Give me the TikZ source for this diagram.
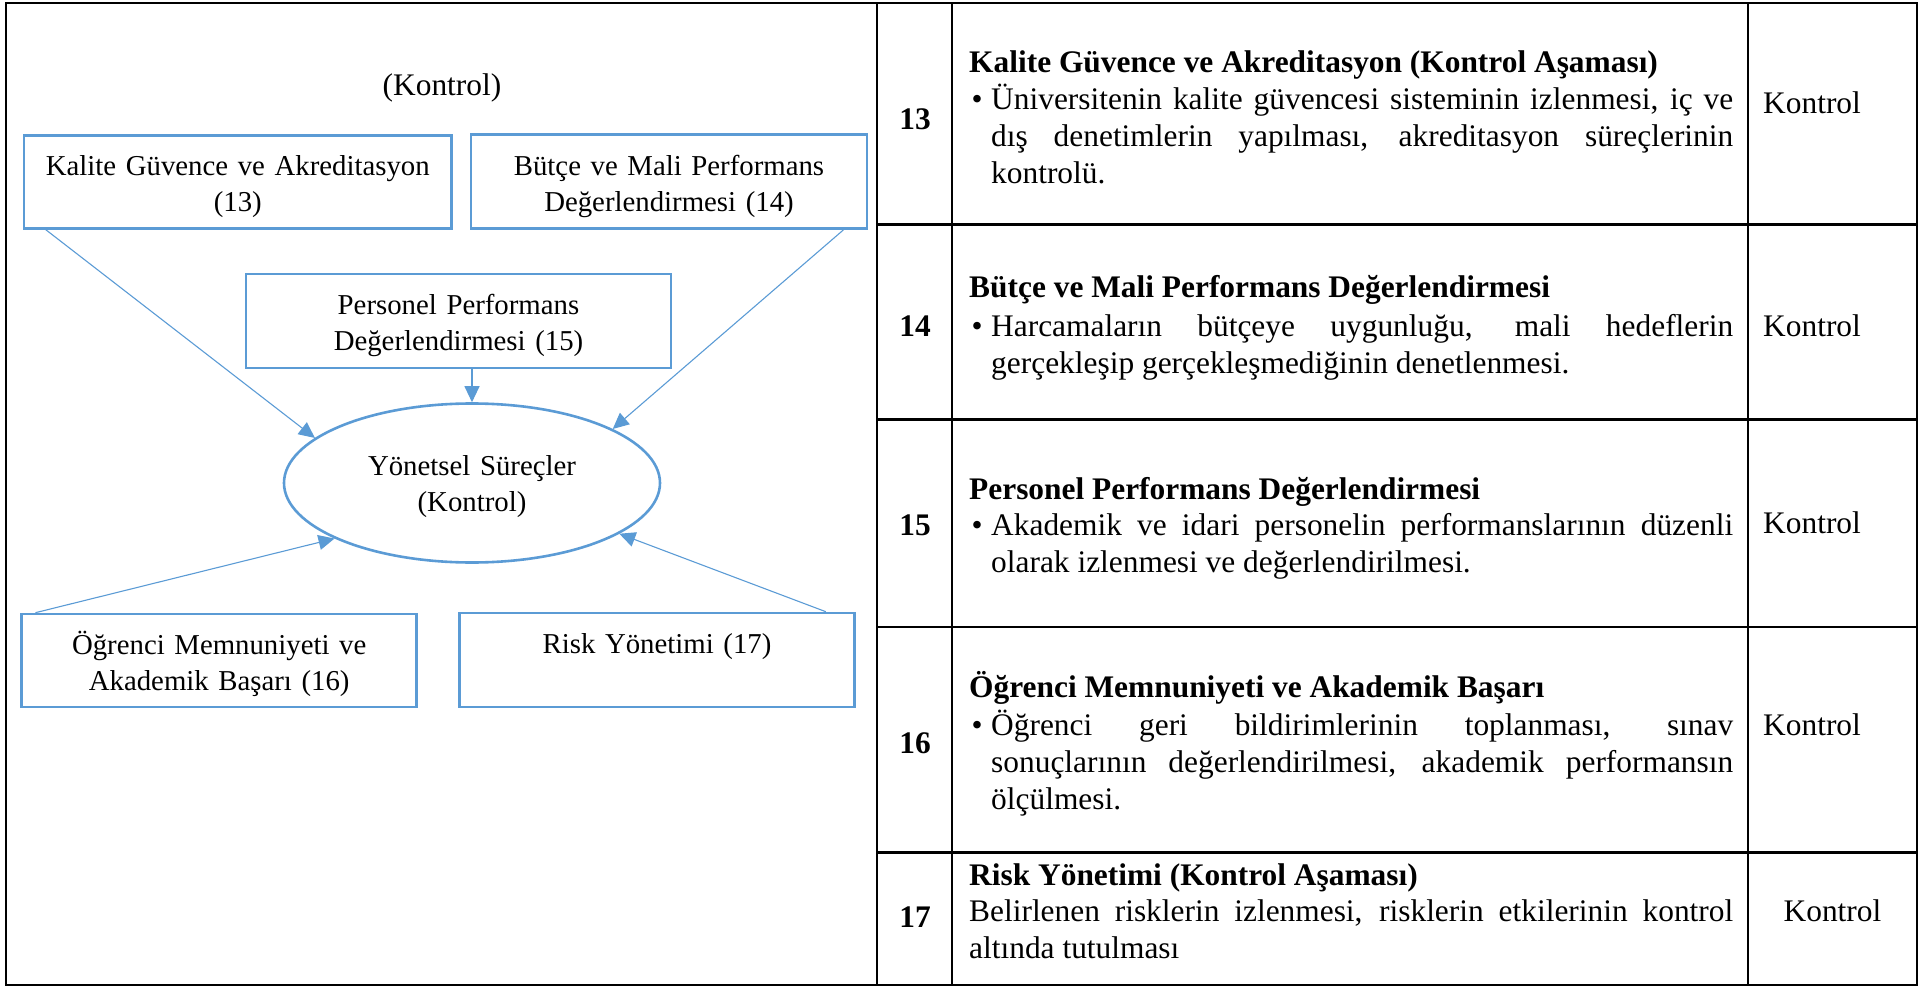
\documentclass[tikz,border=0pt]{standalone}
\usepackage{fontspec}
\setmainfont{Liberation Serif}
\usetikzlibrary{arrows.meta,shapes.geometric,calc}
\definecolor{accent}{HTML}{5B9BD5}
\tolerance=10000
\hbadness=10000
\hyphenpenalty=10000
\begin{document}
\begin{tikzpicture}[x=1pt,y=-1pt,
  box/.style={draw=accent, line width=2.6pt, rectangle, inner sep=0pt, text width=380pt, align=center,
    font=\fontsize{28.8}{36}\selectfont, text height=20pt, text depth=33pt},
  proc/.style={draw=accent, line width=2.6pt, ellipse, inner sep=0pt, minimum width=376pt, minimum height=159pt,
    text width=260pt, align=center, font=\fontsize{28.8}{36}\selectfont, text height=20pt, text depth=36pt},
  link/.style={draw=accent, line width=1.1pt, -{Triangle[length=16pt,width=15pt]}},
  grid/.style={draw=black, line width=2.3pt},
  num/.style={font=\bfseries\fontsize{31.4}{37}\selectfont, anchor=base, inner sep=0pt},
  ttl/.style={font=\bfseries\fontsize{31.4}{37}\selectfont, anchor=base west, inner sep=0pt},
  body/.style={font=\fontsize{31.4}{37}\selectfont, anchor=base west, inner sep=0pt, text width=742pt, align=justify},
  bul/.style={font=\fontsize{31.4}{37}\selectfont, anchor=base, inner sep=0pt},
  ctl/.style={font=\fontsize{31.4}{37}\selectfont, inner sep=0pt},
]
\useasboundingbox (0,0) rectangle (1923,987);

% frame and table grid
\draw[grid] (6,3) rectangle (1917,985);
\draw[grid] (877,3) -- (877,985);
\draw[grid] (952,3) -- (952,985);
\draw[grid] (1748,3) -- (1748,985);
\draw[grid] (877,224.5) -- (1917,224.5);
\draw[grid] (877,419.5) -- (1917,419.5);
\draw[grid] (877,627) -- (1917,627);
\draw[grid] (877,852.5) -- (1917,852.5);

% left diagram
\node[font=\fontsize{31.4}{37}\selectfont, anchor=base, inner sep=0pt] (head) at (442,96) {(Kontrol)};

\node[box, text width=410pt, minimum width=427.7pt, minimum height=92.6pt] (b13) at (237.8,182) {Kalite Güvence ve Akreditasyon\\(13)};
\node[box, minimum width=396pt, minimum height=94pt] (b14) at (669,181.7) {Bütçe ve Mali Performans\\Değerlendirmesi (14)};
\node[box, minimum width=425pt, minimum height=94pt] (b15) at (458.5,321) {Personel Performans\\Değerlendirmesi (15)};
\node[proc] (e) at (472,483) {Yönetsel Süreçler\\(Kontrol)};
\node[box, minimum width=395pt, minimum height=93pt] (b16) at (219.2,660.5) {Öğrenci Memnuniyeti ve\\Akademik Başarı (16)};
\node[box, minimum width=395pt, minimum height=94pt] (b17) at (657,660) {Risk Yönetimi (17)\\\mbox{}};

\draw[link] ([xshift=23pt]b13.south west) -- (e.164);
\draw[link] ([xshift=-25pt]b14.south east) -- (e.21);
\draw[link] (b15.south -| e.north) -- (e.north);
\draw[link] ([xshift=15pt]b16.north west) -- (e.202);
\draw[link] ([xshift=-30pt]b17.north east) -- (e.341);

% row 13
\node[num] (n13) at (915,130) {13};
\node[ttl] (t13) at (969,73) {Kalite Güvence ve Akreditasyon (Kontrol Aşaması)};
\node[bul] (u13) at (977,110) {•};
\node[body] (p13) at (991,110) {Üniversitenin kalite güvencesi sisteminin izlenmesi, iç ve\linebreak dış denetimlerin yapılması, akreditasyon süreçlerinin\linebreak kontrolü.};
\node[ctl, anchor=base west] (k13) at (1763,114) {Kontrol};

% row 14
\node[num] (n14) at (915,336) {14};
\node[ttl] (t14) at (969,298) {Bütçe ve Mali Performans Değerlendirmesi};
\node[bul] (u14) at (977,336) {•};
\node[body] (p14) at (991,336) {Harcamaların bütçeye uygunluğu, mali hedeflerin\linebreak gerçekleşip gerçekleşmediğinin denetlenmesi.};
\node[ctl, anchor=base west] (k14) at (1763,336) {Kontrol};

% row 15
\node[num] (n15) at (915,535) {15};
\node[ttl] (t15) at (969,499) {Personel Performans Değerlendirmesi};
\node[bul] (u15) at (977,535) {•};
\node[body] (p15) at (991,535) {Akademik ve idari personelin performanslarının düzenli\linebreak olarak izlenmesi ve değerlendirilmesi.};
\node[ctl, anchor=base west] (k15) at (1763,533) {Kontrol};

% row 16
\node[num] (n16) at (915,753) {16};
\node[ttl] (t16) at (969,697) {Öğrenci Memnuniyeti ve Akademik Başarı};
\node[bul] (u16) at (977,735) {•};
\node[body] (p16) at (991,735) {Öğrenci geri bildirimlerinin toplanması, sınav\linebreak sonuçlarının değerlendirilmesi, akademik performansın\linebreak ölçülmesi.};
\node[ctl, anchor=base west] (k16) at (1763,735) {Kontrol};

% row 17
\node[num] (n17) at (915,927) {17};
\node[ttl] (t17) at (969,885) {Risk Yönetimi (Kontrol Aşaması)};
\node[body, text width=764pt] (p17) at (969,921) {Belirlenen risklerin izlenmesi, risklerin etkilerinin kontrol\linebreak altında tutulması};
\node[ctl, anchor=base] (k17) at (1832.5,921) {Kontrol};
\end{tikzpicture}
\end{document}
